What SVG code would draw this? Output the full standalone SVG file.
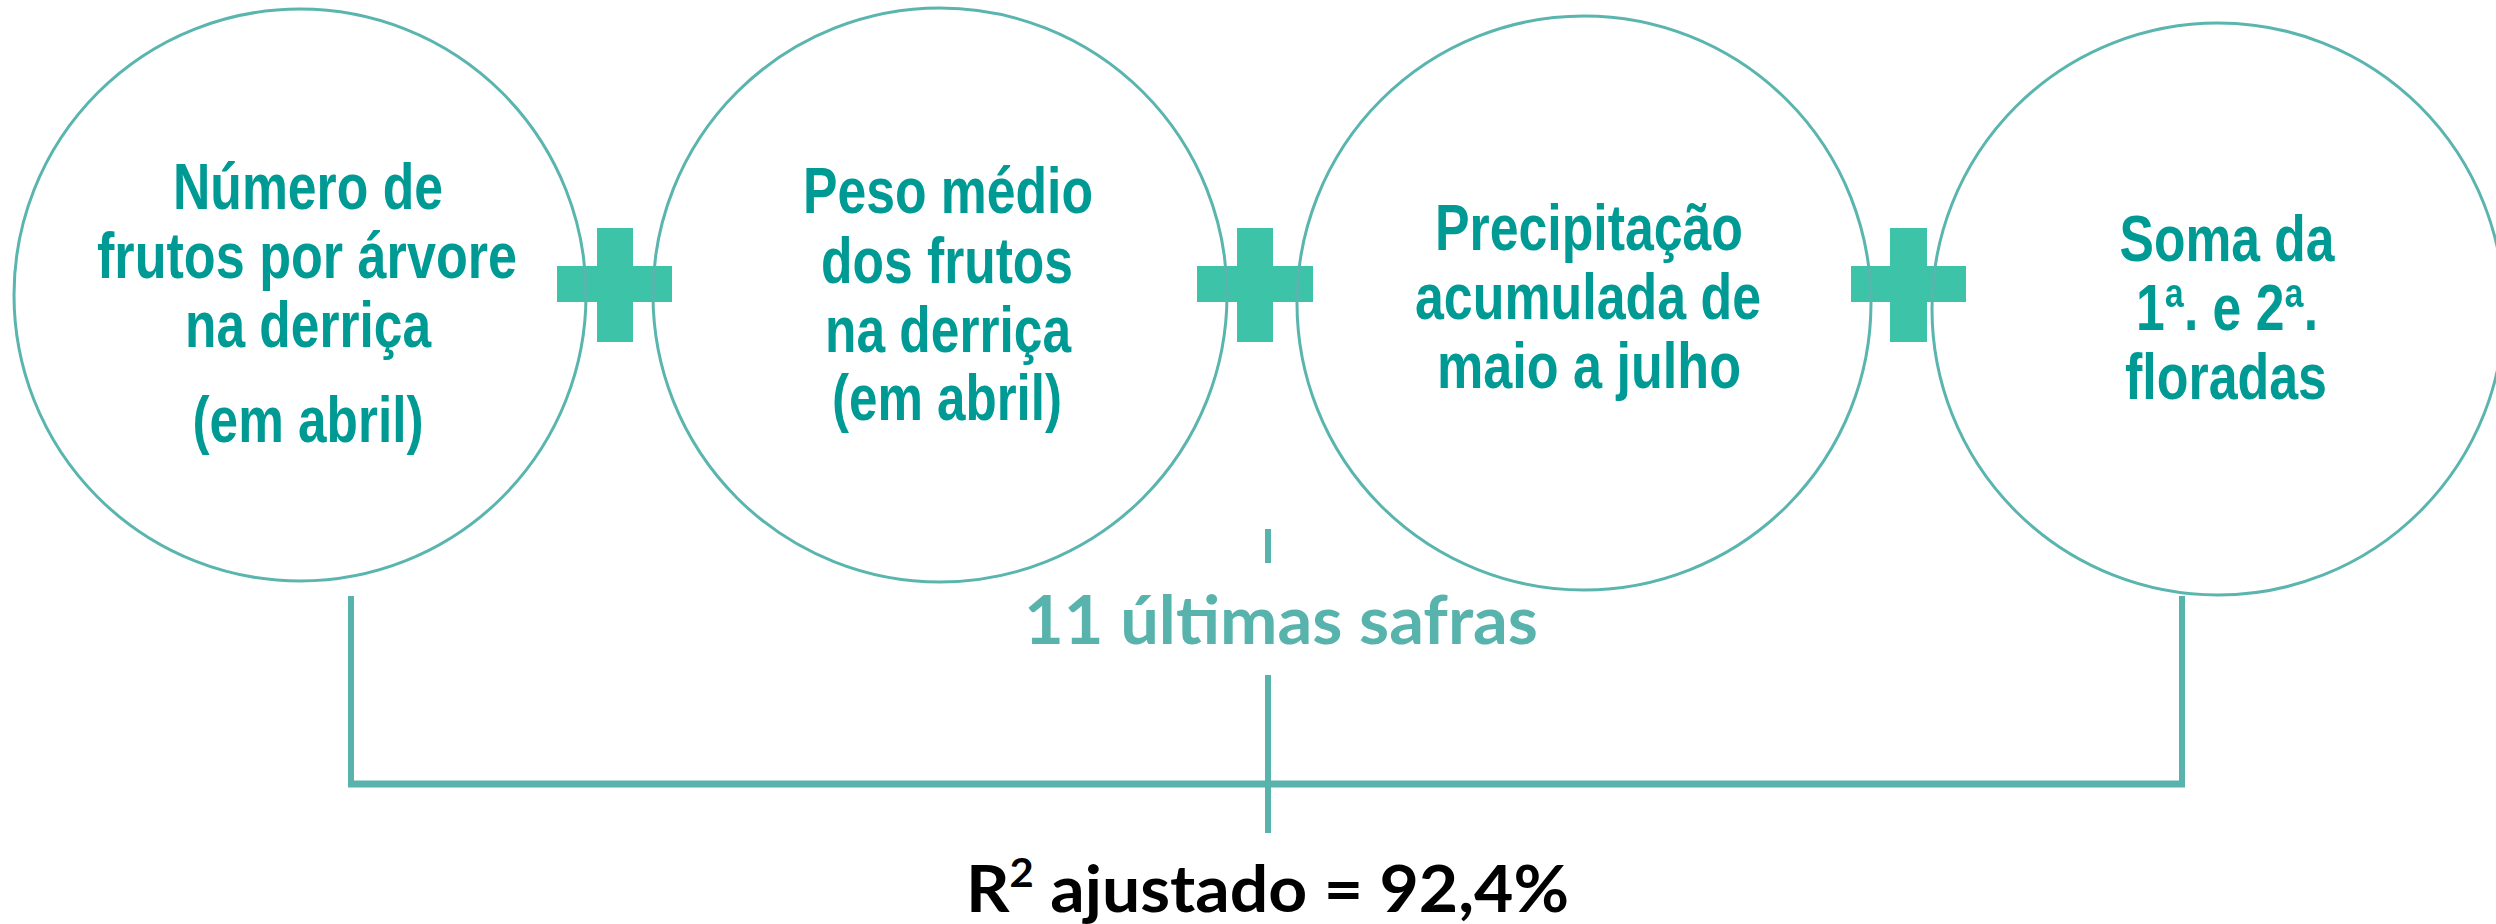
<svg xmlns="http://www.w3.org/2000/svg" width="2496" height="924" viewBox="0 0 2496 924">
<style>
.ring{fill:none;stroke:#5AB5AE;stroke-width:3}
.lbl{font-family:"Liberation Sans Narrow","Liberation Sans",Arial,sans-serif;font-weight:bold;font-size:64px;fill:#009A94;text-anchor:middle}
.plus{fill:#3DC3A7}
.conn{stroke:#57B3AC;fill:none}
.note{font-family:Lato,"Open Sans",sans-serif;font-weight:bold;font-size:66px;fill:#57B3AC;text-anchor:middle}
.res{font-family:Lato,"Open Sans",sans-serif;font-weight:bold;font-size:65px;fill:#000000}
</style>
<rect width="2496" height="924" fill="#ffffff"/>
<g id="plus-signs">
  <path class="plus" d="M597,228h36v38h39v36h-39v40h-36v-40h-40v-36h40z"/>
  <path class="plus" d="M1237,228h36v38h40v36h-40v40h-36v-40h-40v-36h40z"/>
  <path class="plus" d="M1890,228h37v38h39v36h-39v40h-37v-40h-39v-36h39z"/>
</g>
<g id="node-numero-frutos">
  <circle class="ring" cx="300" cy="295" r="286"/>
  <text class="lbl" x="308" y="209" textLength="270" lengthAdjust="spacingAndGlyphs">Número de</text>
  <text class="lbl" x="307" y="278" textLength="420" lengthAdjust="spacingAndGlyphs">frutos por árvore</text>
  <text class="lbl" x="308" y="347" textLength="246" lengthAdjust="spacingAndGlyphs">na derriça</text>
  <text class="lbl" x="308" y="442" textLength="231" lengthAdjust="spacingAndGlyphs">(em abril)</text>
</g>
<g id="node-peso-medio">
  <circle class="ring" cx="940" cy="295" r="287"/>
  <text class="lbl" x="948" y="213" textLength="290" lengthAdjust="spacingAndGlyphs">Peso médio</text>
  <text class="lbl" x="947" y="283" textLength="252" lengthAdjust="spacingAndGlyphs">dos frutos</text>
  <text class="lbl" x="948" y="352" textLength="246" lengthAdjust="spacingAndGlyphs">na derriça</text>
  <text class="lbl" x="947" y="420" textLength="230" lengthAdjust="spacingAndGlyphs">(em abril)</text>
</g>
<g id="node-precipitacao">
  <circle class="ring" cx="1584" cy="303" r="287"/>
  <text class="lbl" x="1589" y="250" textLength="308" lengthAdjust="spacingAndGlyphs">Precipitação</text>
  <text class="lbl" x="1588" y="319" textLength="346" lengthAdjust="spacingAndGlyphs">acumulada de</text>
  <text class="lbl" x="1589" y="388" textLength="304" lengthAdjust="spacingAndGlyphs">maio a julho</text>
</g>
<g id="node-floradas">
  <circle class="ring" cx="2218" cy="309" r="286"/>
  <text class="lbl" x="2227" y="261" textLength="215" lengthAdjust="spacingAndGlyphs">Soma da</text>
  <text class="lbl" x="2227" y="330" textLength="182" lengthAdjust="spacingAndGlyphs">1ª. e 2ª.</text>
  <text class="lbl" x="2226" y="399" textLength="202" lengthAdjust="spacingAndGlyphs">floradas</text>
</g>
<g id="connectors">
  <path class="conn" stroke-width="6" d="M351,596V784"/>
  <path class="conn" stroke-width="6" d="M2182,596V784"/>
  <path class="conn" stroke-width="7" d="M348,784H2185"/>
  <path class="conn" stroke-width="6" d="M1268,529V563"/>
  <path class="conn" stroke-width="6" d="M1268,675V833"/>
</g>
<g id="label-safras">
  <text class="note" x="1281" y="644" textLength="514" lengthAdjust="spacingAndGlyphs">11 últimas safras</text>
</g>
<g id="label-r2">
  <text class="res" x="966" y="912" textLength="603" lengthAdjust="spacingAndGlyphs">R<tspan font-size="40" dy="-25">2</tspan><tspan dy="25"> ajustado = 92,4%</tspan></text>
</g>
</svg>
